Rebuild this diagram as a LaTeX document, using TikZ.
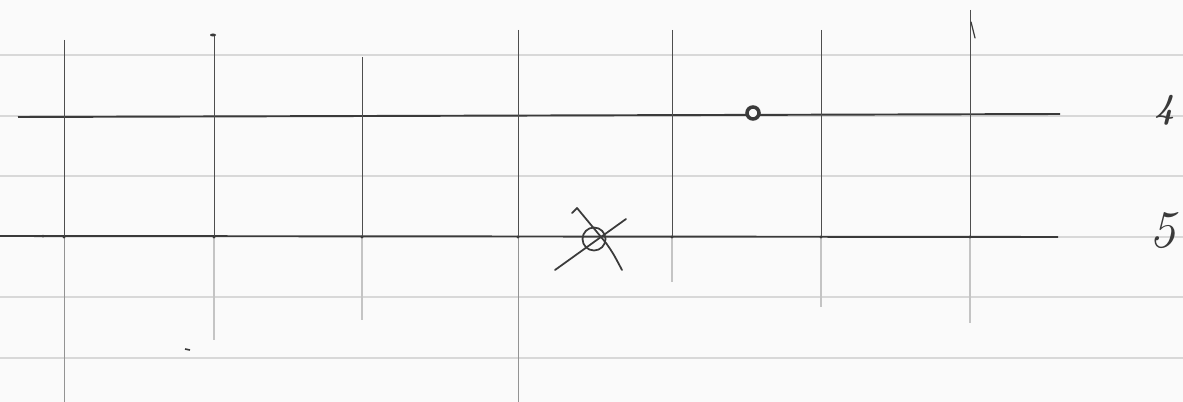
\documentclass[tikz,border=0pt]{standalone}
\usetikzlibrary{calc}
\definecolor{paper}{HTML}{FAFAFA}
\definecolor{rule}{HTML}{D8D8D8}
\definecolor{ink}{HTML}{3A3A3A}
\definecolor{inkfaint}{HTML}{C4C4C4}
\tikzset{
  ruling/.style={draw=rule, line width=0.6pt},
  mainline/.style={draw=ink, line width=1.1pt},
  vline/.style={draw=ink!90, line width=0.55pt},
  vfaint/.style={draw=inkfaint, line width=0.6pt},
  vmid/.style={draw=ink!55, line width=0.55pt},
  pen/.style={draw=ink, line width=1.0pt, line cap=round, line join=round},
  hand/.style={text=ink, inner sep=0pt},
}
\begin{document}
\begin{tikzpicture}[x=0.02cm,y=-0.02cm]
\fill[paper] (0,0) rectangle (1183,402);
\useasboundingbox (0,0) rectangle (1183,402);
% paper rulings
\foreach \yy in {55,116,176,297,358}{
  \draw[ruling] (0,\yy) -- (1183,\yy);
}
\draw[ruling] (1058,237) -- (1183,237);
% staff lines
\coordinate (l4a) at (18,117);
\coordinate (l4b) at (1060,114);
\coordinate (l5a) at (0,236);
\coordinate (l5b) at (1058,237);
\draw[mainline] (l4a) -- (l4b);
\draw[mainline] (l5a) -- (l5b);
% vertical strokes: x, top, faint bottom
\foreach \xx/\tp/\bt [count=\i] in {214/34/340, 362/57/320, 672/30/282, 821/30/307, 970/10/323}{
  \coordinate (vt\i) at (\xx,\tp);
  \coordinate (vm\i) at (\xx,237);
  \coordinate (vb\i) at (\xx,\bt);
  \draw[vline] (vt\i) -- (vm\i);
  \draw[vfaint] (vm\i) -- (vb\i);
  \fill[ink] (\xx,237) circle (1.6);
}
\foreach \xx/\tp [count=\i from 6] in {64/40, 518/30}{
  \coordinate (vt\i) at (\xx,\tp);
  \coordinate (vm\i) at (\xx,237);
  \coordinate (vb\i) at (\xx,402);
  \draw[vline] (vt\i) -- (vm\i);
  \draw[vmid] (vm\i) -- (vb\i);
  \fill[ink] (\xx,237) circle (1.6);
}
% small marks
\draw[pen, line width=0.7pt] (971,22) -- (975,38);
\fill[ink] (213,35) ellipse (3 and 1.5);
\fill[ink] (43,236) circle (1.5);
\draw[ink, line width=0.9pt] (185,349) -- (190,350);
% small circle on line 4
\node[circle, draw=ink, fill=paper, line width=2pt, minimum size=0.24cm, inner sep=0pt] (ring) at (753,113) {};
% crossed symbol on line 5
\node[circle, draw=ink, line width=1.0pt, minimum width=0.46cm, minimum height=0.44cm, inner sep=0pt] (xo) at (594,239) {};
\draw[pen] (555,270) -- (626,219);
\draw[pen] (572,213) -- (577,208) -- (606,243) .. controls (613,253) .. (622,270);
% labels
\node[hand, font=\itshape\bfseries\fontsize{20}{22}\selectfont] (n4) at (1165,110) {4};
\node[hand, font=\itshape\fontsize{30}{32}\selectfont] (n5) at (1163,231) {5};
\end{tikzpicture}
\end{document}
